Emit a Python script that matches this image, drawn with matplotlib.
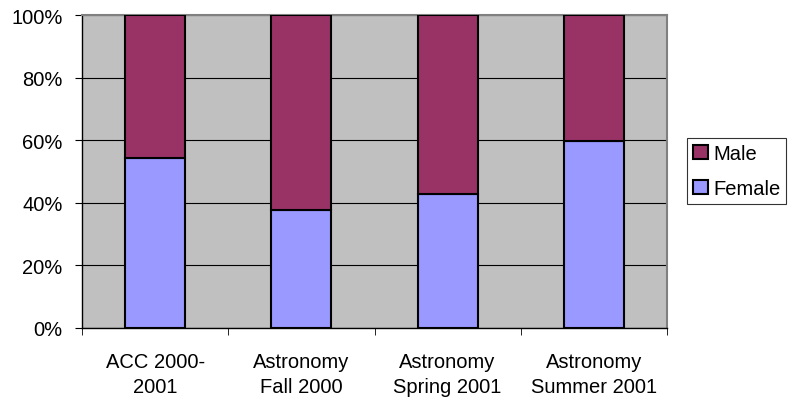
import numpy as np
import matplotlib.pyplot as plt
from matplotlib.ticker import FixedLocator, PercentFormatter

categories = ['ACC 2000-\n2001', 'Astronomy\nFall 2000', 'Astronomy\nSpring 2001', 'Astronomy\nSummer 2001']
female = [54.3, 37.7, 42.8, 59.7]
male = [100 - f for f in female]
y_ticks = [0, 20, 40, 60, 80, 100]

plt.rcParams['font.family'] = ['Liberation Sans', 'DejaVu Sans']
fs = 14.5

fig = plt.figure(figsize=(7.92, 4.02), dpi=100)
ax = fig.add_axes([82 / 792, 73 / 402, 585 / 792, 313 / 402])
ax.set_facecolor('#C0C0C0')

x = np.arange(len(categories))
bar_w = 0.41
ax.bar(x, female, bar_w, color='#9999FF', edgecolor='black', linewidth=1.5, label='Female', zorder=3)
ax.bar(x, male, bar_w, bottom=female, color='#993366', edgecolor='black', linewidth=1.5, label='Male', zorder=3)

ax.set_xlim(-0.5, len(categories) - 0.5)
ax.set_ylim(0, 100)
ax.set_yticks(y_ticks)
ax.yaxis.set_major_formatter(PercentFormatter(decimals=0))
ax.yaxis.grid(True, color='black', linewidth=0.8, zorder=1)
ax.set_axisbelow(True)

# category labels centered, ticks at boundaries
ax.set_xticks(x)
ax.set_xticklabels(categories, fontsize=fs, linespacing=1.4)
ax.tick_params(axis='x', which='major', length=0, pad=17)
ax.xaxis.set_minor_locator(FixedLocator(np.arange(-0.5, len(categories), 1.0)))
ax.tick_params(axis='x', which='minor', length=5, direction='out', color='black')
ax.tick_params(axis='y', length=5, direction='out', labelsize=fs, color='black', pad=9)

for s in ['top', 'right']:
    ax.spines[s].set_color('#808080')
    ax.spines[s].set_linewidth(1.5)
for s in ['left', 'bottom']:
    ax.spines[s].set_color('black')
    ax.spines[s].set_linewidth(1.0)

handles, labels = ax.get_legend_handles_labels()
leg = fig.legend(handles[::-1], labels[::-1], loc='center left',
                 bbox_to_anchor=(687 / 792, 230 / 402), fontsize=fs,
                 frameon=True, fancybox=False, edgecolor='black',
                 handlelength=0.75, handleheight=0.75, handletextpad=0.25,
                 borderpad=0.3, labelspacing=0.8, borderaxespad=0)
leg.get_frame().set_linewidth(0.8)

fig.savefig('out.png', dpi=100)
